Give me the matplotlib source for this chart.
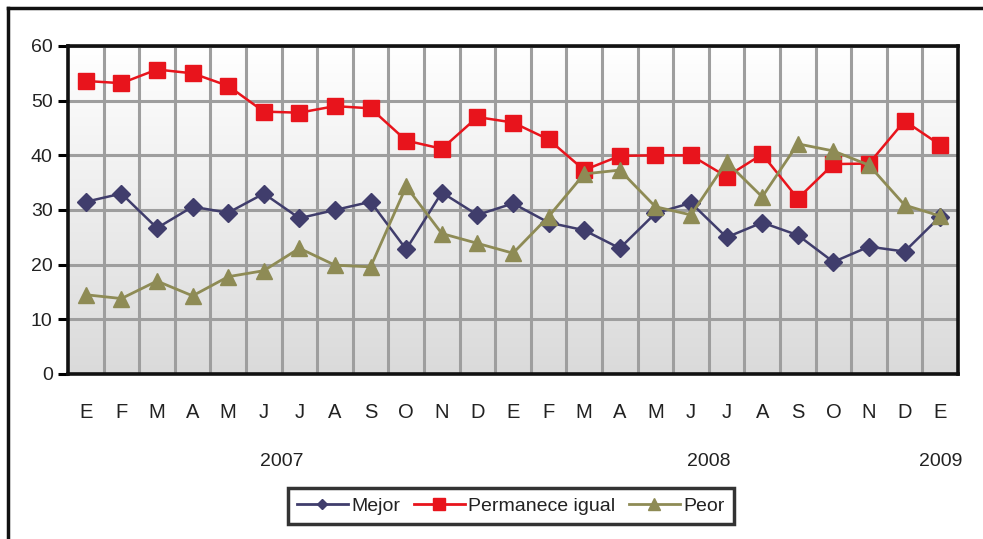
import numpy as np
import matplotlib
matplotlib.use("Agg")
import matplotlib.pyplot as plt
from matplotlib.lines import Line2D
import matplotlib.transforms as mtransforms

months = ["E", "F", "M", "A", "M", "J", "J", "A", "S", "O", "N", "D",
          "E", "F", "M", "A", "M", "J", "J", "A", "S", "O", "N", "D", "E"]
years = ["2007", "2008", "2009"]
year_pos = [5.5, 17.5, 24]

mejor = [31.5, 33.0, 26.7, 30.6, 29.5, 33.0, 28.5, 30.0, 31.5, 22.8, 33.2, 29.1,
         31.2, 27.7, 26.3, 23.0, 29.4, 31.3, 25.0, 27.7, 25.4, 20.5, 23.3, 22.4, 28.8]
igual = [53.6, 53.2, 55.7, 55.0, 52.7, 48.0, 47.8, 49.0, 48.6, 42.7, 41.2, 47.0,
         46.0, 42.9, 37.3, 39.9, 40.0, 40.0, 36.1, 40.2, 32.1, 38.4, 38.5, 46.3, 41.9]
peor = [14.5, 13.8, 17.0, 14.3, 17.8, 18.9, 23.0, 19.9, 19.6, 34.3, 25.7, 23.9,
        22.1, 28.8, 36.6, 37.3, 30.6, 29.1, 38.8, 32.4, 42.1, 40.8, 38.2, 30.9, 28.9]

W, H = 983, 539
fig = plt.figure(figsize=(W / 100, H / 100), dpi=100)
fig.patch.set_facecolor("white")

ax = fig.add_axes([68 / W, 1 - 374 / H, 890 / W, 328 / H])
x = np.arange(len(months))

# gradient background (white at top, light grey at bottom)
grad = np.linspace(0, 1, 256).reshape(-1, 1)
cmap = matplotlib.colors.LinearSegmentedColormap.from_list("g", ["#ffffff", "#dadada"])
ax.imshow(grad, aspect="auto", cmap=cmap, extent=[0, 1, 0, 1], origin="upper",
          transform=ax.transAxes, zorder=0)
ax.set_xlim(-0.5, len(months) - 0.5)
ax.set_ylim(0, 60)

ax.set_xticks(x)
ax.set_xticklabels(months, fontsize=14.5, family=["Liberation Sans", "DejaVu Sans"])
ax.set_xticks(np.arange(0.5, len(months) - 1, 1), minor=True)
ax.set_yticks(np.arange(0, 61, 10))
ax.set_yticklabels([str(v) for v in range(0, 61, 10)], fontsize=14,
                   family=["Liberation Sans", "DejaVu Sans"])
ax.tick_params(axis="x", which="both", length=0, pad=21, labelcolor="#222222")
ax.tick_params(axis="y", length=7, width=2.2, direction="out", pad=4,
               labelcolor="#222222", color="black")

ax.grid(True, axis="x", which="minor", color="#9e9e9e", linewidth=2.2, zorder=1)
ax.grid(True, axis="y", which="major", color="#9e9e9e", linewidth=2.2, zorder=1)
ax.grid(False, axis="x", which="major")

for s in ax.spines.values():
    s.set_linewidth(2.6)
    s.set_color("#111111")
    s.set_zorder(5)

c_mejor = "#403d6c"
c_igual = "#e8141c"
c_peor = "#8e8b55"

ax.plot(x, mejor, color=c_mejor, marker="D", markersize=9.5, linewidth=1.8,
        label="Mejor", zorder=3)
ax.plot(x, igual, color=c_igual, marker="s", markersize=11.5, linewidth=1.8,
        label="Permanece igual", zorder=3)
ax.plot(x, peor, color=c_peor, marker="^", markersize=12, linewidth=2.0,
        label="Peor", zorder=3)

trans = mtransforms.blended_transform_factory(ax.transData, fig.transFigure)
for yp, yl in zip(year_pos, years):
    ax.text(yp, 1 - 462 / H, yl, transform=trans, ha="center", va="center",
            fontsize=14, family=["Liberation Sans Narrow", "Liberation Sans", "DejaVu Sans"],
            color="#222222")

handles = [
    Line2D([], [], color=c_mejor, marker="D", markersize=5, linewidth=2),
    Line2D([], [], color=c_igual, marker="s", markersize=9, linewidth=2),
    Line2D([], [], color=c_peor, marker="^", markersize=8, linewidth=2),
]
leg = fig.legend(handles, ["Mejor", "Permanece igual", "Peor"], loc="center",
                 bbox_to_anchor=(511 / W, 1 - 506 / H), ncol=3, frameon=True,
                 fancybox=False, handlelength=2.6, handletextpad=0.2,
                 columnspacing=0.7, borderpad=0.45,
                 prop={"family": ["Liberation Sans Narrow", "Liberation Sans", "DejaVu Sans"],
                       "size": 14})
leg.get_frame().set_edgecolor("black")
leg.get_frame().set_linewidth(2.5)
for t in leg.get_texts():
    t.set_color("#222222")

# outer frame (left and top lines)
fig.add_artist(Line2D([8 / W, 8 / W], [0, 1 - 8 / H], transform=fig.transFigure,
                      color="#111111", linewidth=2.5))
fig.add_artist(Line2D([8 / W, 1], [1 - 8 / H, 1 - 8 / H], transform=fig.transFigure,
                      color="#111111", linewidth=2.5))

fig.savefig("out.png", dpi=100)
